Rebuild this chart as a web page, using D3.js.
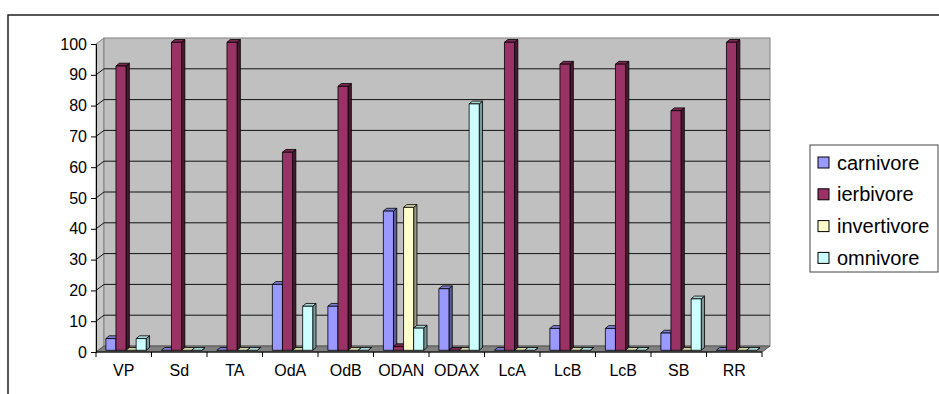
<!DOCTYPE html>
<html>
<head>
<meta charset="utf-8">
<script src="https://cdn.jsdelivr.net/npm/d3@7/dist/d3.min.js"></script>
<style>
  html, body { margin: 0; padding: 0; background: #fff; }
  svg { display: block; font-family: "Liberation Sans", Arial, sans-serif; }
</style>
</head>
<body>
<svg id="chart" width="939" height="394"></svg>
<script>
// Sites along the x axis
const categories = ["VP", "Sd", "TA", "OdA", "OdB", "ODAN", "ODAX", "LcA", "LcB", "LcB", "SB", "RR"];
// Trophic guilds (series)
const series = ["carnivore", "ierbivore", "invertivore", "omnivore"];
// Percentage per guild, one entry per site
const carnivore   = [3.8, 0, 0, 21.4, 14.3, 45.2, 20, 0, 7.1, 7.1, 5.6, 0];
const ierbivore   = [92.3, 100, 100, 64.3, 85.7, 1.2, 0, 100, 92.9, 92.9, 77.8, 100];
const invertivore = [0, 0, 0, 0, 0, 46.4, 0, 0, 0, 0, 0, 0];
const omnivore    = [3.8, 0, 0, 14.3, 0, 7.2, 80, 0, 0, 0, 16.7, 0];
const yTicks = [0, 10, 20, 30, 40, 50, 60, 70, 80, 90, 100];

const values = { carnivore, ierbivore, invertivore, omnivore };
const colors = {
  carnivore:   { front: "#9999FF", side: "#5c5c99", top: "#7f7fd6" },
  ierbivore:   { front: "#993366", side: "#4a1930", top: "#7a2952" },
  invertivore: { front: "#FFFFCC", side: "#99997a", top: "#d6d6ab" },
  omnivore:    { front: "#CCFFFF", side: "#7a9999", top: "#abd6d6" }
};

const svg = d3.select("#chart");

// Outer chart frame (top and left edges)
svg.append("path")
  .attr("d", "M8,394 L8,15 L939,15")
  .attr("fill", "none").attr("stroke", "#222").attr("stroke-width", 1.5);

// Front plane geometry
const left = 96, right = 762, base = 352, topY = 44;
const wall = { dx: 8, dy: -6 };           // depth of the walls
const barOff = { dx: 2.3, dy: -1.7 };      // bar front inset within depth
const barDepth = { dx: 3.3, dy: -2.8 };    // bar depth

const y = d3.scaleLinear().domain([0, 100]).range([base, topY]);
const x0 = d3.scaleBand().domain(d3.range(categories.length)).range([left, right]).padding(0);
const x1 = d3.scaleBand().domain(series).range([0, x0.bandwidth()]).paddingInner(0).paddingOuter(0.75);

// Walls and floor
const g = svg.append("g");
g.append("polygon")   // side wall
  .attr("points", [[left, y(0)], [left + wall.dx, y(0) + wall.dy], [left + wall.dx, y(100) + wall.dy], [left, y(100)]].join(" "))
  .attr("fill", "#c8c8c8").attr("stroke", "#808080").attr("stroke-width", 1);
g.append("rect")      // back wall
  .attr("x", left + wall.dx).attr("y", y(100) + wall.dy)
  .attr("width", right - left).attr("height", y(0) - y(100))
  .attr("fill", "#C0C0C0").attr("stroke", "#808080").attr("stroke-width", 1);
g.append("polygon")   // floor
  .attr("points", [[left, y(0)], [right, y(0)], [right + wall.dx, y(0) + wall.dy], [left + wall.dx, y(0) + wall.dy]].join(" "))
  .attr("fill", "#808080").attr("stroke", "#555").attr("stroke-width", 1);

// Gridlines on the side and back walls
const grid = g.append("g").attr("stroke", "#111").attr("stroke-width", 1).attr("fill", "none");
yTicks.filter(v => v > 0 && v < 100).forEach(v => {
  grid.append("path")
    .attr("d", `M${left},${y(v)} L${left + wall.dx},${y(v) + wall.dy} L${right + wall.dx},${y(v) + wall.dy}`);
});

// Y axis
const yAxis = svg.append("g")
  .attr("transform", `translate(${left},0)`)
  .call(d3.axisLeft(y).tickValues(yTicks).tickSize(5).tickPadding(4));
yAxis.select(".domain").attr("stroke", "#000");
yAxis.selectAll(".tick line").attr("stroke", "#000");
yAxis.selectAll("text").attr("font-size", 16).attr("fill", "#000")
  .attr("font-family", "Liberation Sans, Arial, sans-serif");

// X axis: boundary ticks, centered labels
const xLine = svg.append("g");
xLine.append("line").attr("x1", left).attr("x2", right).attr("y1", base).attr("y2", base)
  .attr("stroke", "#000");
d3.range(categories.length + 1).forEach(i => {
  const xx = left + i * x0.step();
  xLine.append("line").attr("x1", xx).attr("x2", xx).attr("y1", base).attr("y2", base + 5)
    .attr("stroke", "#000");
});
const xAxis = svg.append("g")
  .attr("transform", `translate(0,${base})`)
  .call(d3.axisBottom(x0).tickSize(0).tickPadding(13).tickFormat(i => categories[i]));
xAxis.select(".domain").remove();
xAxis.selectAll("text").attr("font-size", 16).attr("fill", "#000")
  .attr("font-family", "Liberation Sans, Arial, sans-serif");

// 3D bars
const bars = svg.append("g").attr("stroke", "#000").attr("stroke-width", 0.8).attr("stroke-linejoin", "round");
categories.forEach((c, i) => {
  series.forEach(s => {
    const v = values[s][i];
    const col = colors[s];
    const xl = x0(i) + x1(s) + barOff.dx;
    const xr = xl + x1.bandwidth();
    const yb = y(0) + barOff.dy;
    const yt = y(v) + barOff.dy;
    const bg = bars.append("g");
    bg.append("polygon")  // right side face
      .attr("points", [[xr, yt], [xr + barDepth.dx, yt + barDepth.dy], [xr + barDepth.dx, yb + barDepth.dy], [xr, yb]].join(" "))
      .attr("fill", col.side);
    bg.append("polygon")  // top face
      .attr("points", [[xl, yt], [xl + barDepth.dx, yt + barDepth.dy], [xr + barDepth.dx, yt + barDepth.dy], [xr, yt]].join(" "))
      .attr("fill", col.top);
    if (v > 0) {
      bg.append("rect")   // front face
        .attr("x", xl).attr("y", yt).attr("width", xr - xl).attr("height", yb - yt)
        .attr("fill", col.front);
    }
  });
});

// Legend
const lg = svg.append("g");
lg.append("rect").attr("x", 810).attr("y", 145).attr("width", 128).attr("height", 127)
  .attr("fill", "#fff").attr("stroke", "#444").attr("stroke-width", 1);
series.forEach((s, k) => {
  const cy = 162.5 + k * 31.8;
  lg.append("rect").attr("x", 818).attr("y", cy - 5.5).attr("width", 11).attr("height", 11)
    .attr("fill", colors[s].front).attr("stroke", "#000").attr("stroke-width", 1);
  lg.append("text").attr("x", 837).attr("y", cy).attr("dy", "0.35em")
    .attr("font-size", 20).attr("fill", "#000").text(s);
});
</script>
</body>
</html>
